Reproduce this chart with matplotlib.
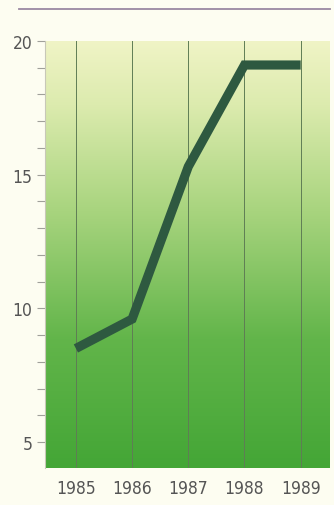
import numpy as np
import matplotlib
matplotlib.use("Agg")
import matplotlib.pyplot as plt
from matplotlib.colors import LinearSegmentedColormap
from matplotlib.lines import Line2D

years = [1985, 1986, 1987, 1988, 1989]
values = [8.5, 9.6, 15.3, 19.1, 19.1]
y_ticks = [5, 10, 15, 20]
year_labels = ["1985", "1986", "1987", "1988", "1989"]

plt.rcParams['font.family'] = ['DejaVu Sans']
plt.rcParams['font.stretch'] = 'condensed'

fig = plt.figure(figsize=(3.34, 5.06), dpi=100, facecolor="#fdfdf1")
ax = fig.add_axes([0.1347, 0.0731, 0.853, 0.844])
ax.set_facecolor("none")

# vertical green gradient behind the plot
grad = LinearSegmentedColormap.from_list(
    "bg", [(0.0, "#44a636"), (0.3, "#62b54a"), (0.6, "#a8d47e"), (0.85, "#dcebae"), (1.0, "#f0f4c6")])
ramp = np.linspace(0, 1, 256).reshape(-1, 1)
ax.imshow(ramp, cmap=grad, origin="lower", aspect="auto",
          extent=[0, 1, 0, 1], transform=ax.transAxes, zorder=0)

for yr in years:
    ax.axvline(yr, color="#5f7d55", lw=0.7, zorder=1)

ax.plot(years, values, color="#2e5940", lw=6.6, solid_capstyle="butt",
        solid_joinstyle="miter", zorder=3)

ax.set_xlim(1984.45, 1989.52)
ax.set_ylim(4.03, 20)
ax.set_yticks(y_ticks)
ax.set_yticks(np.arange(5, 21, 1), minor=True)
ax.set_xticks(years)
ax.set_xticklabels(year_labels)

for s in ["top", "right", "bottom"]:
    ax.spines[s].set_visible(False)
ax.spines["left"].set_color("#c8c8b8")
ax.spines["left"].set_linewidth(0.8)

ax.tick_params(axis="y", which="both", direction="out", length=6, width=0.8,
               color="#a0a09a", labelsize=12.5, labelcolor="#555555", pad=3)
ax.tick_params(axis="x", length=0, labelsize=12.5, labelcolor="#555555", pad=8)

# rule across the top of the panel
fig.add_artist(Line2D([19 / 334, 330 / 334], [1 - 10 / 506, 1 - 10 / 506],
                      transform=fig.transFigure, color="#9a88a2", lw=1.3))

fig.savefig("out.png", dpi=100, facecolor=fig.get_facecolor())
